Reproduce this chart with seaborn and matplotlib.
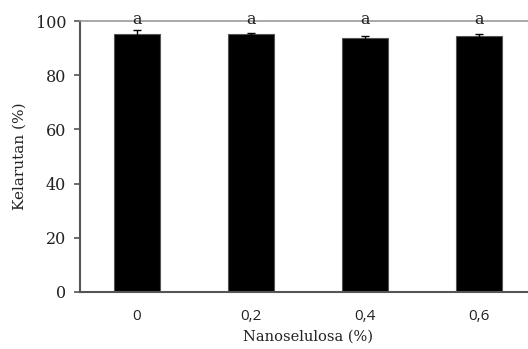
import matplotlib
matplotlib.use("Agg")
import matplotlib.pyplot as plt
import seaborn as sns
import pandas as pd

sns.set_style("white")

# data
dosis = ["0", "0,2", "0,4", "0,6"]
kelarutan = [95.1, 95.1, 93.8, 94.5]
sd = [1.4, 0.3, 0.8, 0.6]
notasi = ["a", "a", "a", "a"]

df = pd.DataFrame({"Nanoselulosa": dosis, "Kelarutan": kelarutan})

fig = plt.figure(figsize=(5.28, 3.49), dpi=100)
ax = fig.add_axes([80 / 528, 57 / 349, 456 / 528, 271 / 349])

sns.barplot(data=df, x="Nanoselulosa", y="Kelarutan", color="black",
            width=0.4, errorbar=None, edgecolor="#555555", linewidth=0.8, ax=ax)
ax.errorbar(range(len(dosis)), kelarutan, yerr=sd, fmt="none",
            ecolor="black", elinewidth=1, capsize=3, capthick=1)

for i, t in enumerate(notasi):
    ax.text(i, 100.6, t, ha="center", va="center", fontsize=11.5,
            family="DejaVu Serif", color="#222222")

ax.set_xlim(-0.5, 3.5)
ax.set_ylim(0, 100)
ax.set_yticks([0, 20, 40, 60, 80, 100])

ax.set_xlabel("Nanoselulosa (%)", fontsize=10.5, family="DejaVu Serif",
              color="#222222", labelpad=4)
ax.set_ylabel("Kelarutan (%)", fontsize=11, family="DejaVu Serif",
              color="#222222")
ax.yaxis.set_label_coords(-0.118, 0.5)

for lab in ax.get_yticklabels():
    lab.set_family("DejaVu Serif")
for lab in ax.get_xticklabels():
    lab.set_family("Open Sans")
ax.tick_params(axis="y", labelsize=11.5, length=4, width=1.2, color="#555555",
               direction="out", left=True, pad=6, labelcolor="#222222")
ax.tick_params(axis="x", labelsize=11, length=0, pad=12, labelcolor="#222222")

ax.spines["left"].set_color("#555555")
ax.spines["left"].set_linewidth(1.5)
ax.spines["bottom"].set_color("#555555")
ax.spines["bottom"].set_linewidth(1.5)
ax.spines["top"].set_color("#999999")
ax.spines["top"].set_linewidth(1.2)
ax.spines["right"].set_visible(False)

plt.savefig("out.png", dpi=100)
